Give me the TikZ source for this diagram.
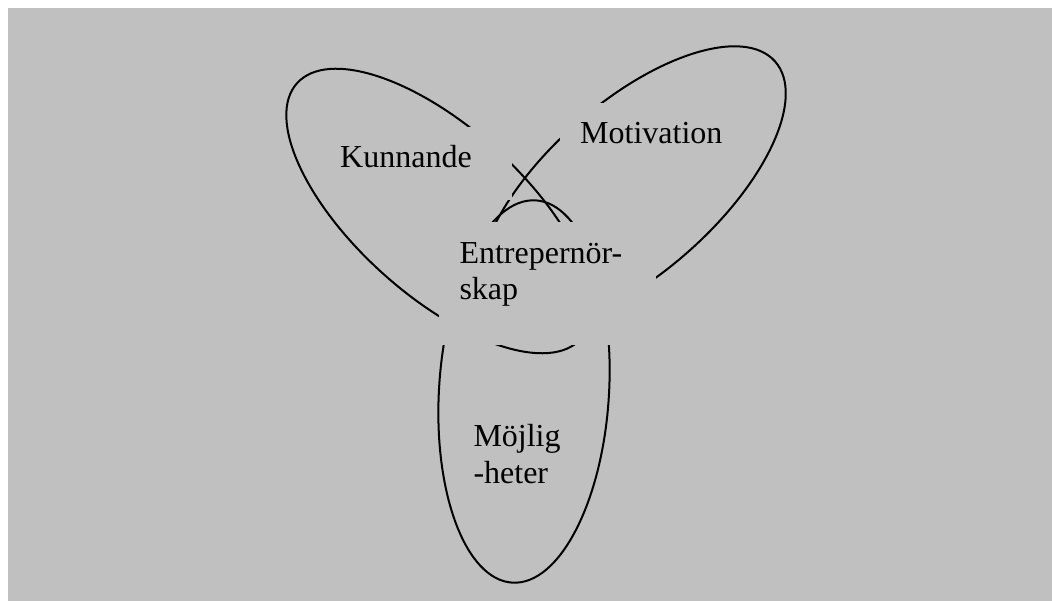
\documentclass[tikz,border=0pt]{standalone}
\usepackage{fontspec}
\setmainfont{Liberation Serif}
\definecolor{bggray}{RGB}{192,192,192}
\begin{document}
\begin{tikzpicture}[x=1pt,y=-1pt,
  lobe/.style={draw=black, line width=2pt},
  cover/.style={fill=bggray, draw=none, inner sep=0pt, anchor=north west},
  lbl/.style={font=\fontsize{32}{37}\selectfont, inner sep=0pt, anchor=base west}]
\useasboundingbox (0,0) rectangle (1052,601);
\fill[white] (0,0) rectangle (1052,601);
\fill[bggray] (8,8) rectangle (1052,601);
% the three lobes
\draw[lobe, rotate around={-42:(439,211)}] (439,211) ellipse [x radius=191pt, y radius=84pt];
\draw[lobe, rotate around={41.5:(632,188)}] (632,188) ellipse [x radius=191pt, y radius=85pt];
\draw[lobe, rotate around={-3.5:(524,391.5)}] (524,391.5) ellipse [x radius=85pt, y radius=191.5pt];
% opaque text boxes
\node[cover, minimum width=192pt, minimum height=73pt] (kbox) at (320,127) {};
\node[cover, minimum width=180pt, minimum height=73pt] (mbox) at (560,103) {};
\node[cover, minimum width=217pt, minimum height=123pt] (ebox) at (439,222) {};
% labels
\node[lbl] (kun) at (340,167.3) {Kunnande};
\node[lbl] (mot) at (580,144) {Motivation};
\node[lbl] (ent1) at (459.3,263.3) {Entrepernör-};
\node[lbl] (ent2) at (459.3,300) {skap};
\node[lbl] (moj1) at (473.3,446.7) {Möjlig};
\node[lbl] (moj2) at (473.3,483.3) {-heter};
\end{tikzpicture}
\end{document}
